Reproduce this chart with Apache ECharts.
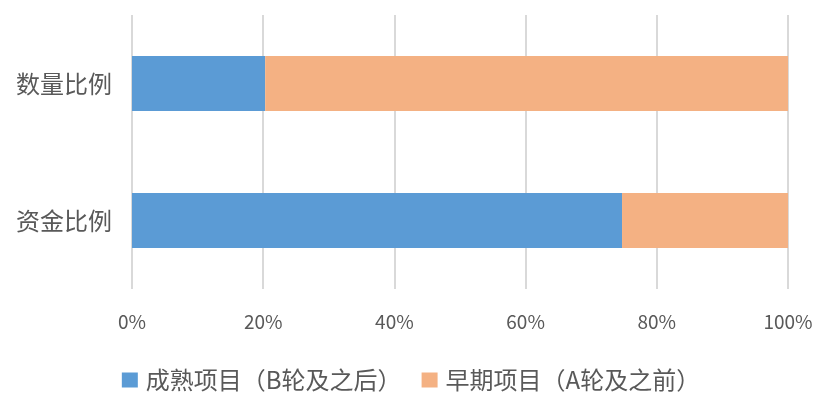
<!DOCTYPE html>
<html><head><meta charset="utf-8">
<script src="https://cdn.jsdelivr.net/npm/echarts@6/dist/echarts.min.js"></script>
<style>html,body{margin:0;padding:0;background:#fff}#c{width:822px;height:415px}</style>
</head><body><div id="c"></div>
<script>
const categories = ['数量比例', '资金比例'];
const matureValues = [20.3, 74.7];
const earlyValues = [79.7, 25.3];
const seriesNames = ['成熟项目（B轮及之后）', '早期项目（A轮及之前）'];
const xTicks = [0, 20, 40, 60, 80, 100];

const font = '"Noto Sans CJK SC", "Noto Sans", sans-serif';
const chart = echarts.init(document.getElementById('c'));
chart.setOption({
  animation: false,
  textStyle: { fontFamily: font },
  legend: {
    top: 363, left: 'center', itemWidth: 16, itemHeight: 15, itemGap: 20,
    icon: 'rect',
    textStyle: { fontSize: 24, color: '#595959', fontFamily: font, padding: [0, 0, 0, 3] },
    data: seriesNames
  },
  grid: { left: 132, right: 34, top: 15, bottom: 126 },
  xAxis: {
    type: 'value', min: 0, max: 100, interval: 20,
    axisLine: { show: false }, axisTick: { show: false },
    splitLine: { lineStyle: { color: '#d9d9d9', width: 2 } },
    axisLabel: { formatter: v => xTicks.includes(v) ? v + '%' : '', fontSize: 19, color: '#595959', margin: 23, fontFamily: font }
  },
  yAxis: {
    type: 'category', data: categories, inverse: true,
    axisLine: { show: false }, axisTick: { show: false },
    axisLabel: { fontSize: 24, color: '#595959', margin: 20, fontFamily: font }
  },
  series: [
    { name: seriesNames[0], type: 'bar', stack: 't', data: matureValues, barWidth: 55, itemStyle: { color: '#5B9BD5' } },
    { name: seriesNames[1], type: 'bar', stack: 't', data: earlyValues, barWidth: 55, itemStyle: { color: '#F4B183' } }
  ]
});
</script></body></html>
